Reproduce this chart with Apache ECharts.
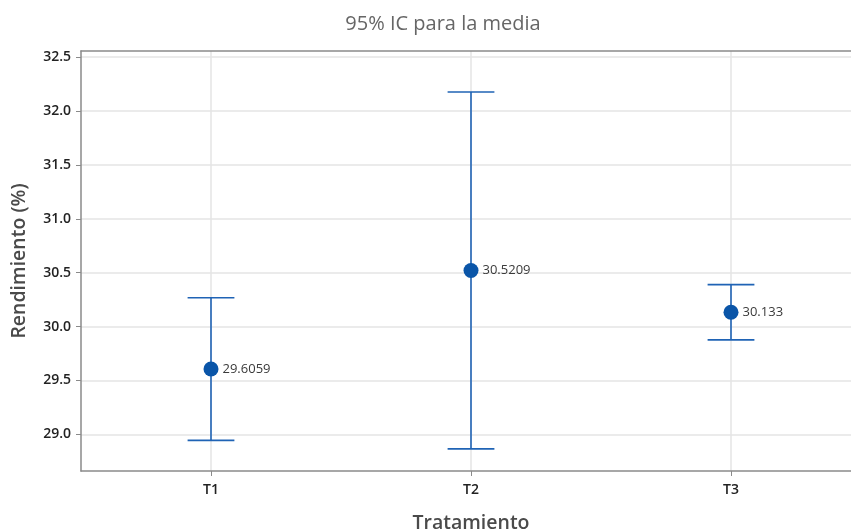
<!DOCTYPE html>
<html>
<head>
<meta charset="utf-8">
<script src="https://cdn.jsdelivr.net/npm/echarts@6/dist/echarts.min.js"></script>
<style>html,body{margin:0;padding:0;background:#fff}#c{width:851px;height:532px}</style>
</head>
<body>
<div id="c"></div>
<script>
const categories = ['T1', 'T2', 'T3'];
const means = [29.6059, 30.5209, 30.133];
const lower = [28.944, 28.865, 29.877];
const upper = [30.268, 32.176, 30.389];
const yTicks = [29.0, 29.5, 30.0, 30.5, 31.0, 31.5, 32.0, 32.5];
const xTicks = [1, 2, 3];

const font = 'Open Sans, Noto Sans, sans-serif';
const chart = echarts.init(document.getElementById('c'), null, {renderer: 'canvas'});

const ciData = categories.map((c, i) => [i + 1, lower[i], upper[i]]);
const meanData = categories.map((c, i) => [i + 1, means[i]]);

chart.setOption({
  animation: false,
  title: {
    text: '95% IC para la media',
    left: 438, top: 9, textAlign: 'center',
    textStyle: {fontFamily: font, fontSize: 20, fontWeight: 'normal', color: '#666'}
  },
  grid: {
    left: 81, top: 51, width: 780, height: 420,
    outerBoundsMode: 'none', containLabel: false,
    show: false
  },
  xAxis: [{
    type: 'value', min: 0.5, max: 3.5, position: 'bottom',
    name: 'Tratamiento', nameLocation: 'middle', nameGap: 42,
    nameTextStyle: {fontFamily: font, fontSize: 19.5, fontWeight: 600, color: '#4a4a4a'},
    axisLine: {show: true, onZero: false, lineStyle: {color: '#8a8a8a', width: 1.5}},
    axisTick: {show: true, length: 5, customValues: xTicks, lineStyle: {color: '#8a8a8a'}},
    axisLabel: {customValues: xTicks, margin: 12, fontFamily: font, fontSize: 14, fontWeight: 600, color: '#222',
      formatter: v => categories[Math.round(v) - 1] || ''},
    splitLine: {show: true, lineStyle: {color: '#e4e4e4', width: 1.5}}
  }, {
    type: 'value', min: 0.5, max: 3.5, position: 'top',
    axisLine: {show: true, onZero: false, lineStyle: {color: '#8a8a8a', width: 1.5}},
    axisTick: {show: false}, axisLabel: {show: false}, splitLine: {show: false}
  }],
  yAxis: {
    type: 'value', min: 28.66, max: 32.557,
    name: 'Rendimiento (%)', nameLocation: 'middle', nameGap: 52,
    nameTextStyle: {fontFamily: font, fontSize: 19.5, fontWeight: 600, color: '#4a4a4a'},
    axisLine: {show: true, onZero: false, lineStyle: {color: '#8a8a8a', width: 1.5}},
    axisTick: {show: true, length: 5, customValues: yTicks, lineStyle: {color: '#8a8a8a'}},
    axisLabel: {customValues: yTicks, margin: 10, fontFamily: font, fontSize: 14, fontWeight: 600, color: '#222',
      padding: [4, 0, 0, 0],
      formatter: v => v.toFixed(1)},
    splitLine: {show: true, lineStyle: {color: '#e4e4e4', width: 1.5}}
  },
  series: [
    {
      type: 'custom',
      data: ciData,
      renderItem: function (params, api) {
        const x = api.value(0);
        const lo = api.coord([x, api.value(1)]);
        const hi = api.coord([x, api.value(2)]);
        const half = api.size([1, 0])[0] * 0.09;
        const style = {stroke: '#1f63b5', lineWidth: 1.6, fill: 'none'};
        return {
          type: 'group',
          children: [
            {type: 'line', shape: {x1: lo[0], y1: lo[1], x2: hi[0], y2: hi[1]}, style: style},
            {type: 'line', shape: {x1: hi[0] - half, y1: hi[1], x2: hi[0] + half, y2: hi[1]}, style: style},
            {type: 'line', shape: {x1: lo[0] - half, y1: lo[1], x2: lo[0] + half, y2: lo[1]}, style: style}
          ]
        };
      },
      z: 2
    },
    {
      type: 'scatter',
      data: meanData,
      symbol: 'circle',
      symbolSize: 15,
      itemStyle: {color: '#0a55a8', opacity: 1},
      label: {
        show: true, position: 'right', distance: 4,
        fontFamily: font, fontSize: 13, color: '#3a3a3a',
        formatter: p => String(means[p.dataIndex])
      },
      z: 3
    }
  ]
});
</script>
</body>
</html>
